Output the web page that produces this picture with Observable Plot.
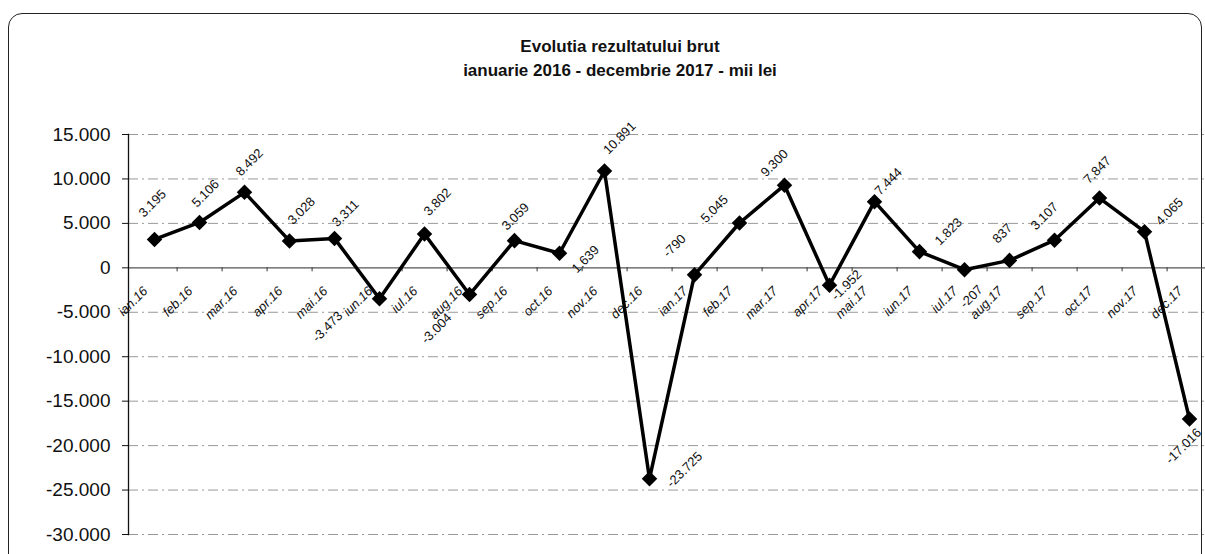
<!DOCTYPE html>
<html><head><meta charset="utf-8">
<script src="https://cdn.jsdelivr.net/npm/d3@7"></script>
<script src="https://cdn.jsdelivr.net/npm/@observablehq/plot@0.6"></script>
<style>
body{margin:0;background:#fff;}
#wrap{position:relative;width:1205px;height:554px;overflow:hidden;font-family:"Liberation Sans",Arial,sans-serif;}
#border{position:absolute;left:8px;top:13px;width:1194px;height:560px;border:1.5px solid #222;border-radius:14px;box-sizing:border-box;}
.t{position:absolute;left:0;width:1240px;text-align:center;font-weight:bold;font-size:17px;color:#111;}
#chart{position:absolute;left:0;top:0;}
</style></head><body>
<div id="wrap">
<div id="border"></div>
<div class="t" style="top:37px">Evolutia rezultatului brut</div>
<div class="t" style="top:61px">ianuarie 2016 - decembrie 2017 - mii lei</div>
<div id="chart"></div>
</div>
<script>
const months = ["ian.16","feb.16","mar.16","apr.16","mai.16","iun.16","iul.16","aug.16","sep.16","oct.16","nov.16","dec.16",
                "ian.17","feb.17","mar.17","apr.17","mai.17","iun.17","iul.17","aug.17","sep.17","oct.17","nov.17","dec.17"];
const values = [3195,5106,8492,3028,3311,-3473,3802,-3004,3059,1639,10891,-23725,
                -790,5045,9300,-1952,7444,1823,-207,837,3107,7847,4065,-17016];
const yTicks = [15000,10000,5000,0,-5000,-10000,-15000,-20000,-25000,-30000];

// label placement (screen-pixel offsets from each point, like Excel label positions)
const labelOffset = {
  "ian.16":[-2,-36],"feb.16":[6,-29],"mar.16":[5,-30],"apr.16":[12,-30],"mai.16":[11,-25],"iun.16":[-52,28],
  "iul.16":[13,-32],"aug.16":[-33,34],"sep.16":[1,-24],"oct.16":[26,6],"nov.16":[15,-33],"dec.16":[35,-9],
  "ian.17":[-20,-29],"feb.17":[-25,-14],"mar.17":[-10,-22],"apr.17":[17,0],"mai.17":[14,-20],"iun.17":[29,-20],
  "iul.17":[7,27],"aug.17":[-7,-27],"sep.17":[-10,-24],"oct.17":[-2,-28],"nov.17":[25,-20],"dec.17":[-6,27]
};

const fmt = d3.formatLocale({decimal:",",thousands:".",grouping:[3],currency:["",""],minus:"-"}).format(",d");
const data = months.map((m,i)=>({month:m, value:values[i]}));
const font = "'Liberation Sans', Arial, sans-serif";

const chart = Plot.plot({
  width:1205, height:554, marginTop:134, marginBottom:20, marginLeft:128, marginRight:0,
  style:{background:"transparent", fontFamily:font, color:"#111"},
  x:{type:"point", domain:months, range:[151.7,1192], padding:0, axis:null},
  y:{domain:[-30000,15000], axis:null},
  marks:[
    Plot.ruleY(yTicks.filter(d=>d!==0), {stroke:"#999", strokeWidth:1, strokeDasharray:"10,4,2,4"}),
    Plot.ruleY([0], {stroke:"#555", strokeWidth:1.3}),
    Plot.frame({anchor:"left", stroke:"#111", strokeWidth:1.3}),
    Plot.axisY({ticks:yTicks, label:null, tickSize:6, tickPadding:12, tickFormat:fmt, fontSize:19, stroke:"#111", fill:"#111"}),
    Plot.ruleX(months, {x:d=>d, y1:0, y2:-450, dx:22.6, stroke:"#333", strokeWidth:1}),
    Plot.text(months, {x:d=>d, y:()=>0, text:d=>d, rotate:-45, textAnchor:"end", dx:-9, dy:21, fontSize:13, fontStyle:"italic", fill:"#111"}),
    Plot.line(data, {x:"month", y:"value", stroke:"#000", strokeWidth:3.5}),
    Plot.dot(data, {x:"month", y:"value", symbol:"diamond2", r:7, fill:"#000", stroke:"none"}),
    ...data.map(d => Plot.text([d], {x:"month", y:"value", text:e=>fmt(e.value), rotate:-45,
        dx:labelOffset[d.month][0], dy:labelOffset[d.month][1], fontSize:13, fill:"#111"}))
  ]
});
document.getElementById("chart").appendChild(chart);
</script>
</body></html>
